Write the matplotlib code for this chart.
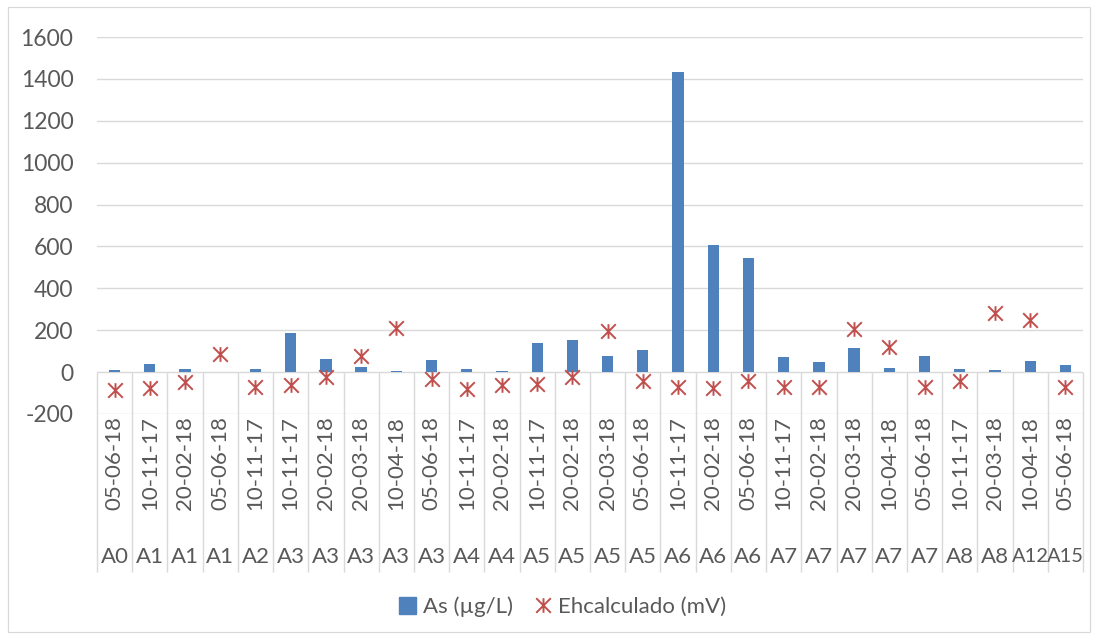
import matplotlib
matplotlib.use("Agg")
import matplotlib.pyplot as plt
from matplotlib.path import Path
from matplotlib.lines import Line2D
from matplotlib.patches import Rectangle, Patch
import numpy as np

plt.rcParams['font.family'] = ['Lato', 'DejaVu Sans']

sites = ["A0", "A1", "A1", "A1", "A2", "A3", "A3", "A3", "A3", "A3", "A4", "A4",
         "A5", "A5", "A5", "A5", "A6", "A6", "A6", "A7", "A7", "A7", "A7", "A7",
         "A8", "A8", "A12", "A15"]
dates = ["05-06-18", "10-11-17", "20-02-18", "05-06-18", "10-11-17", "10-11-17",
         "20-02-18", "20-03-18", "10-04-18", "05-06-18", "10-11-17", "20-02-18",
         "10-11-17", "20-02-18", "20-03-18", "05-06-18", "10-11-17", "20-02-18",
         "05-06-18", "10-11-17", "20-02-18", "20-03-18", "10-04-18", "05-06-18",
         "10-11-17", "20-03-18", "10-04-18", "05-06-18"]
as_ugl = [10, 38, 14, 0, 14, 188, 61, 24, 3, 57, 14, 4,
          138, 153, 75, 105, 1433, 606, 544, 72, 49, 115, 19, 75,
          14, 10, 54, 32]
eh_mv = [-86, -78, -46, 86, -70, -62, -22, 76, 212, -35, -83, -62,
         -57, -22, 197, -41, -73, -78, -41, -70, -70, 204, 121, -70,
         -41, 283, 248, -70]
yticks = [-200, 0, 200, 400, 600, 800, 1000, 1200, 1400, 1600]

BLUE = "#4F81BD"
RED = "#C0504D"
GRID = "#D9D9D9"
TXT = "#595959"
FS = 16

# asterisk marker: an X with a vertical stroke
star = Path([(-1, -1), (1, 1), (-1, 1), (1, -1), (0, -1), (0, 1)],
            [Path.MOVETO, Path.LINETO, Path.MOVETO, Path.LINETO, Path.MOVETO, Path.LINETO])

W, H = 1096, 639
fig = plt.figure(figsize=(W / 100, H / 100), dpi=100)
fig.patches.append(Rectangle((8 / W, 7 / H), 1082 / W, 625 / H, transform=fig.transFigure,
                             fill=False, edgecolor=GRID, lw=0.9))

ax = fig.add_axes([97 / W, 1 - 414 / H, (1083 - 97) / W, (414 - 37) / H])
n = len(sites)
x = np.arange(n)
ax.bar(x, as_ugl, width=0.32, color=BLUE, zorder=3)
ax.plot(x, eh_mv, linestyle="none", marker=star, markersize=10.5,
        markeredgecolor=RED, markeredgewidth=1.4, zorder=4)

ax.set_xlim(-0.5, n - 0.5)
ax.set_ylim(-200, 1600)
ax.set_yticks(yticks)
ax.set_yticklabels([str(v) for v in yticks], fontsize=FS + 0.5, color=TXT)
ax.tick_params(axis="y", length=0, pad=17)
ax.set_xticks([])
for s in ax.spines.values():
    s.set_visible(False)
for v in yticks:
    ax.axhline(v, color=GRID, lw=1.0, zorder=1)

# category separators running from the zero line down through the label rows
y0 = (0 - (-200)) / 1800
bottom_frac = -(572 - 414) / (414 - 37)
ax.vlines(np.arange(n + 1) - 0.5, bottom_frac, y0, transform=ax.get_xaxis_transform(),
          colors=GRID, lw=1.0, clip_on=False, zorder=1)

date_y = -(416 - 414) / (414 - 37)
site_y = -(557 - 414) / (414 - 37)
for i in range(n):
    ax.text(i, date_y, dates[i], transform=ax.get_xaxis_transform(), rotation=90,
            ha="center", va="top", fontsize=FS, color=TXT)
    # three-character site names are set a touch smaller so they fit their cell
    ax.text(i, site_y, sites[i], transform=ax.get_xaxis_transform(),
            ha="center", va="center", fontsize=FS if len(sites[i]) < 3 else 14.5,
            color=TXT)

handles = [Patch(facecolor=BLUE, edgecolor=BLUE),
           Line2D([], [], linestyle="none", marker=star, markersize=10.5,
                  markeredgecolor=RED, markeredgewidth=1.4)]
fig.legend(handles, ["As (µg/L)", "Ehcalculado (mV)"], loc="center",
           bbox_to_anchor=(563 / W, 1 - 607 / H), ncol=2, frameon=False, fontsize=FS,
           labelcolor=TXT, handlelength=0.75, handleheight=0.75, handletextpad=0.3,
           columnspacing=1.0)

fig.savefig("out.png", dpi=100)
